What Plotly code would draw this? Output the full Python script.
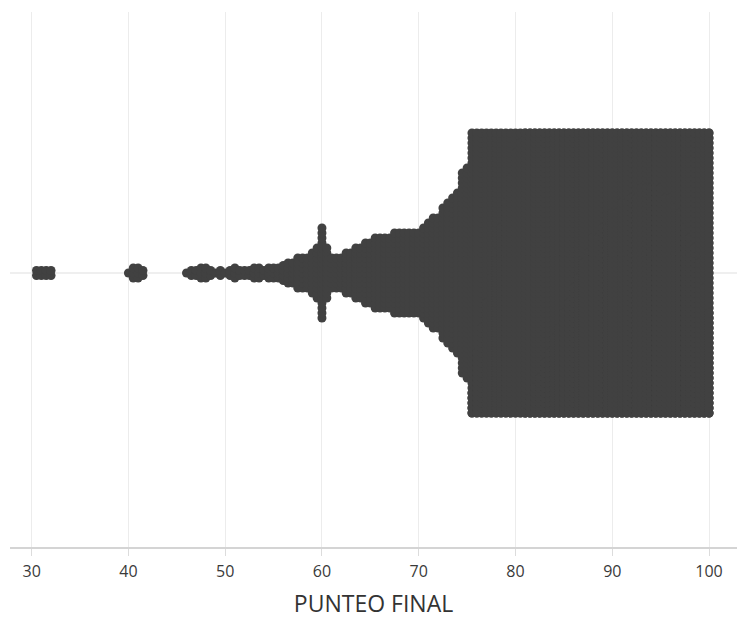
import plotly.graph_objects as go

# Score bins (PUNTEO FINAL) and number of students per bin
scores = [30.5, 31.0, 31.5, 32.0,
          40.0, 40.5, 41.0, 41.5,
          46.0, 46.5, 47.0, 47.5, 48.0, 48.5, 49.0, 49.5, 50.0, 50.5,
          51.0, 51.5, 52.0, 52.5, 53.0, 53.5, 54.0, 54.5, 55.0, 55.5,
          56.0, 56.5, 57.0, 57.5, 58.0, 58.5, 59.0, 59.5, 60.0, 60.5,
          61.0, 61.5, 62.0, 62.5, 63.0, 63.5, 64.0, 64.5, 65.0, 65.5,
          66.0, 66.5, 67.0, 67.5, 68.0, 68.5, 69.0, 69.5, 70.0, 70.5,
          71.0, 71.5, 72.0, 72.5, 73.0, 73.5, 74.0, 74.5, 75.0, 75.5,
          76.0, 76.5, 77.0, 77.5, 78.0, 78.5, 79.0, 79.5, 80.0, 80.5,
          81.0, 81.5, 82.0, 82.5, 83.0, 83.5, 84.0, 84.5, 85.0, 85.5,
          86.0, 86.5, 87.0, 87.5, 88.0, 88.5, 89.0, 89.5, 90.0, 90.5,
          91.0, 91.5, 92.0, 92.5, 93.0, 93.5, 94.0, 94.5, 95.0, 95.5,
          96.0, 96.5, 97.0, 97.5, 98.0, 98.5, 99.0, 99.5, 100.0]
counts = [2, 2, 2, 2,
          1, 3, 3, 2,
          1, 2, 2, 3, 3, 2, 1, 2, 1, 2,
          3, 2, 2, 2, 3, 3, 2, 3, 3, 3,
          4, 5, 5, 7, 7, 7, 9, 11, 19, 11,
          7, 7, 7, 9, 9, 11, 11, 13, 13, 15,
          15, 15, 15, 17, 17, 17, 17, 17, 17, 19,
          21, 23, 23, 27, 29, 31, 33, 41, 43, 62,
          70, 75, 80, 85, 90, 95, 100, 105, 110, 112,
          115, 118, 120, 122, 125, 127, 130, 132, 135, 137,
          140, 142, 145, 147, 150, 150, 152, 152, 155, 155,
          157, 157, 158, 158, 160, 160, 160, 160, 160, 158,
          158, 156, 155, 152, 150, 148, 145, 140, 135]

# swarm layout (pixel-like units on a hidden y axis)
STEP = 5.0          # vertical spacing between stacked dots
CAP = 57            # dots per column before wrapping back onto the band
xs, ys = [], []
for s, c in zip(scores, counts):
    first = min(c, CAP)
    for j in range(first):
        xs.append(s)
        ys.append((j - (first - 1) / 2) * STEP)
    for j in range(c - first):
        k = j % CAP
        xs.append(s)
        ys.append((k - (CAP - 1) / 2) * STEP)

fig = go.Figure(go.Scatter(
    x=xs, y=ys, mode="markers",
    marker=dict(size=9, color="#414141", line=dict(width=0)),
    hoverinfo="x",
))

fig.update_layout(
    width=737, height=619,
    margin=dict(l=10, r=0, t=12, b=72),
    paper_bgcolor="white", plot_bgcolor="white",
    showlegend=False,
    font=dict(family="Open Sans, Noto Sans, sans-serif", color="#333333"),
    xaxis=dict(
        range=[27.76, 102.89],
        tickvals=[30, 40, 50, 60, 70, 80, 90, 100],
        showgrid=True, gridcolor="#ececec", gridwidth=1,
        zeroline=False,
        showline=True, linecolor="#d4d4d4", linewidth=2,
        ticks="outside", ticklen=7, tickcolor="#dcdcdc", tickwidth=1,
        tickfont=dict(size=16, color="#3a3a3a"),
        ticklabelstandoff=2,
        title=dict(text="PUNTEO FINAL", font=dict(size=23, color="#333333"), standoff=17),
        fixedrange=True,
    ),
    yaxis=dict(
        range=[-274, 261],
        showgrid=False, showticklabels=False,
        zeroline=True, zerolinecolor="#efefef", zerolinewidth=2,
        fixedrange=True,
    ),
)

fig.write_html("out.html", config={"displayModeBar": False},
               post_script="document.body.style.margin='0';")
